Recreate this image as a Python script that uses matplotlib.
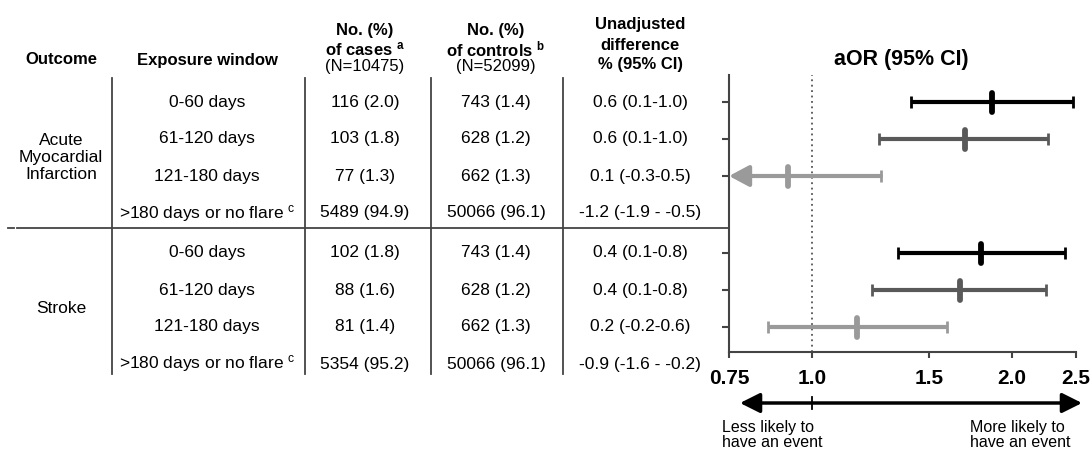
import matplotlib
matplotlib.use('Agg')
import matplotlib.pyplot as plt
from matplotlib.ticker import NullLocator

plt.rcParams['font.family'] = ['Liberation Sans', 'DejaVu Sans']
plt.rcParams['mathtext.fontset'] = 'custom'
plt.rcParams['mathtext.rm'] = 'Liberation Sans'
plt.rcParams['mathtext.bf'] = 'Liberation Sans:bold'
plt.rcParams['mathtext.it'] = 'Liberation Sans:italic'

# ---- data ----
outcomes = ['Acute\nMyocardial\nInfarction', 'Stroke']
windows = ['0-60 days', '61-120 days', '121-180 days', r'>180 days or no flare $^{\rm c}$']

cases = [['116 (2.0)', '103 (1.8)', '77 (1.3)', '5489 (94.9)'],
         ['102 (1.8)', '88 (1.6)', '81 (1.4)', '5354 (95.2)']]
controls = [['743 (1.4)', '628 (1.2)', '662 (1.3)', '50066 (96.1)'],
            ['743 (1.4)', '628 (1.2)', '662 (1.3)', '50066 (96.1)']]
unadj_diff = [['0.6 (0.1-1.0)', '0.6 (0.1-1.0)', '0.1 (-0.3-0.5)', '-1.2 (-1.9 - -0.5)'],
              ['0.4 (0.1-0.8)', '0.4 (0.1-0.8)', '0.2 (-0.2-0.6)', '-0.9 (-1.6 - -0.2)']]

# adjusted odds ratios, first three windows of each outcome
aor = [[1.87, 1.70, 0.92], [1.80, 1.67, 1.17]]
aor_lo = [[1.41, 1.26, 0.66], [1.35, 1.23, 0.86]]
aor_hi = [[2.47, 2.27, 1.27], [2.41, 2.25, 1.60]]

xticks = [0.75, 1.0, 1.5, 2.0, 2.5]
xticklabels = ['0.75', '1.0', '1.5', '2.0', '2.5']

# ---- layout (figure pixels, y from top) ----
W, H = 1091, 453
group_top = [102, 253]
row_step = 37
col_x = [61, 207, 365, 496, 640]
vline_x = [112, 305, 431, 563]
shades = ['#000000', '#595959', '#9a9a9a']
line_col = '#444444'

fig = plt.figure(figsize=(W / 100, H / 100), dpi=100)

# table canvas in pixel units
ax_t = fig.add_axes([0, 0, 1, 1])
ax_t.set_xlim(0, W)
ax_t.set_ylim(H, 0)
ax_t.axis('off')

# headers
hdr = dict(ha='center', va='center', fontsize=12, fontweight='bold')
ax_t.text(col_x[0], 60, 'Outcome', **hdr)
ax_t.text(col_x[1], 60, 'Exposure window', **hdr)
ax_t.text(col_x[2], 30, 'No. (%)', **hdr)
ax_t.text(col_x[2], 49, r'of cases $^{\mathbf{a}}$', **hdr)
ax_t.text(col_x[2], 66, '(N=10475)', ha='center', va='center', fontsize=12)
ax_t.text(col_x[3], 30, 'No. (%)', **hdr)
ax_t.text(col_x[3], 49, r'of controls $^{\mathbf{b}}$', **hdr)
ax_t.text(col_x[3], 66, '(N=52099)', ha='center', va='center', fontsize=12)
ax_t.text(col_x[4], 25, 'Unadjusted', **hdr)
ax_t.text(col_x[4], 45, 'difference', **hdr)
ax_t.text(col_x[4], 65, '% (95% CI)', **hdr)
ax_t.text(901, 59, 'aOR (95% CI)', ha='center', va='center', fontsize=15.5, fontweight='bold')

# table body
body = dict(ha='center', va='center', fontsize=12.5)
for g in range(2):
    mid = group_top[g] + 1.5 * row_step
    ax_t.text(col_x[0], mid, outcomes[g], linespacing=1.15, **body)
    for k in range(4):
        y = group_top[g] + k * row_step
        ax_t.text(col_x[1], y, windows[k], **body)
        ax_t.text(col_x[2], y, cases[g][k], **body)
        ax_t.text(col_x[3], y, controls[g][k], **body)
        ax_t.text(col_x[4], y, unadj_diff[g][k], **body)

for x in vline_x:
    ax_t.plot([x, x], [78, 374], color=line_col, lw=1.3)
ax_t.plot([8, 14], [228, 228], color=line_col, lw=1.3)
ax_t.plot([17, 729], [228, 228], color=line_col, lw=1.3)

# forest plot
x0, x1, y_top, y_bot = 729, 1076, 75, 352
ax_f = fig.add_axes([x0 / W, 1 - y_bot / H, (x1 - x0) / W, (y_bot - y_top) / H])
ax_f.patch.set_alpha(0)
ax_f.set_xscale('log')
ax_f.set_xlim(xticks[0], xticks[-1])
ax_f.set_ylim(y_bot, y_top)

ax_f.axvline(1.0, color='#555555', lw=1.3, ls=(0, (1, 2)))

ytick_pos = []
for g in range(2):
    for k in range(3):
        y = group_top[g] + k * row_step
        ytick_pos.append(y)
        c = shades[k]
        lo, pt, hi = aor_lo[g][k], aor[g][k], aor_hi[g][k]
        if lo < xticks[0]:
            ax_f.annotate('', xy=(xticks[0], y), xytext=(hi, y),
                          arrowprops=dict(arrowstyle='-|>,head_length=0.6,head_width=0.32',
                                          color=c, lw=3, mutation_scale=20,
                                          shrinkA=0, shrinkB=0))
        else:
            ax_f.plot([lo, hi], [y, y], color=c, lw=3, solid_capstyle='butt')
            ax_f.plot([lo], [y], marker='|', ms=9, mew=2, color=c)
        ax_f.plot([hi], [y], marker='|', ms=9, mew=2, color=c)
        # point estimate: short thick bar with rounded ends
        ax_f.plot([pt, pt], [y - 9.5, y + 9.5], color=c, lw=4.2, solid_capstyle='round')

ax_f.set_xticks(xticks)
ax_f.set_xticklabels(xticklabels, fontsize=15, fontweight='bold')
ax_f.xaxis.set_minor_locator(NullLocator())
ax_f.set_yticks(ytick_pos)
ax_f.set_yticklabels([])
ax_f.tick_params(axis='x', length=4, width=1.5, color=line_col, pad=8)
ax_f.tick_params(axis='y', length=5, width=1.5, color=line_col)
for s in ['top', 'right']:
    ax_f.spines[s].set_visible(False)
for s in ['left', 'bottom']:
    ax_f.spines[s].set_color(line_col)
    ax_f.spines[s].set_linewidth(1.5)

# direction arrow below the axis
x_one = ax_f.transData.transform((1.0, y_bot))[0]
ax_t.annotate('', xy=(740, 403), xytext=(1082, 403),
              arrowprops=dict(arrowstyle='<|-|>,head_length=0.6,head_width=0.3',
                              color='black', lw=2.5, mutation_scale=20,
                              shrinkA=0, shrinkB=0))
ax_t.plot([x_one, x_one], [397, 409], color='black', lw=1.3)
ax_t.text(722, 435, 'Less likely to\nhave an event', ha='left', va='center',
          fontsize=11.5, linespacing=1.05)
ax_t.text(1070, 435, 'More likely to\nhave an event', ha='right', va='center',
          multialignment='left', fontsize=11.5, linespacing=1.05)

fig.savefig('out.png', dpi=100)
